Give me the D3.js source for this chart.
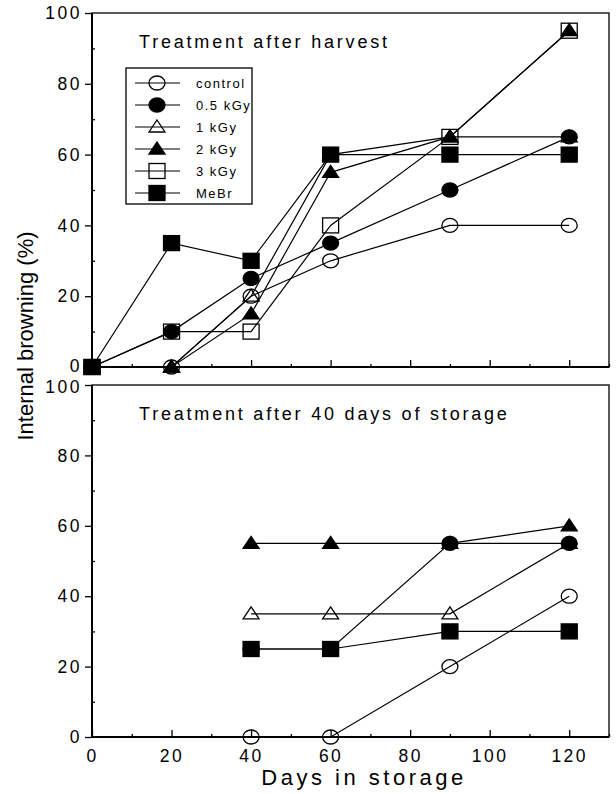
<!DOCTYPE html>
<html>
<head>
<meta charset="utf-8">
<script src="https://cdn.jsdelivr.net/npm/d3@7"></script>
<style>
    body { margin: 0; background: #fff; }
    text { font-family: "Liberation Sans", Arial, sans-serif; fill: #000; }
</style>
</head>
<body>
<div id="chart"></div>
<script>
// series names and marker styles, in legend order
const seriesNames = ["control", "0.5 kGy", "1 kGy", "2 kGy", "3 kGy", "MeBr"];

// top panel: treatment after harvest
const harvestDays = [0, 20, 40, 60, 90, 120];
const harvestControl = [0, 0, 20, 30, 40, 40];
const harvest05 = [0, 10, 25, 35, 50, 65];
const harvest1 = [0, 0, 20, 60, 65, 65];
const harvest2 = [0, 0, 15, 55, 65, 95];
const harvest3 = [0, 10, 10, 40, 65, 95];
const harvestMeBr = [0, 35, 30, 60, 60, 60];

// bottom panel: treatment after 40 days of storage
const storedDays = [40, 60, 90, 120];
const storedControl = [0, 0, 20, 40];
const stored05 = [25, 25, 55, 55];
const stored1 = [35, 35, 35, 55];
const stored2 = [55, 55, 55, 60];
const storedMeBr = [25, 25, 30, 30];

const xTicks = [0, 20, 40, 60, 80, 100, 120];
const xMinor = [10, 30, 50, 70, 90, 110, 130];
const yTicks = [0, 20, 40, 60, 80, 100];
const yMinor = [10, 30, 50, 70, 90];

const markers = {
    "control": { shape: "circle", filled: false },
    "0.5 kGy": { shape: "circle", filled: true },
    "1 kGy": { shape: "triangle", filled: false },
    "2 kGy": { shape: "triangle", filled: true },
    "3 kGy": { shape: "square", filled: false },
    "MeBr": { shape: "square", filled: true }
};

const svg = {
    width: 616,
    height: 794,
    left: 92,
    right: 609,
    top: { y0: 13, y1: 367 },
    bottom: { y0: 385, y1: 737 }
};

const chart = d3.select("#chart")
    .append("svg")
    .attr("width", svg.width)
    .attr("height", svg.height);

const xScale = d3.scaleLinear()
    .domain([0, 130])
    .range([svg.left, svg.right]);

function drawMarker(g, name, x, y) {
    const m = markers[name];
    let el;
    if (m.shape === "circle") {
        el = g.append("ellipse").attr("cx", x).attr("cy", y).attr("rx", 8).attr("ry", 7);
    } else if (m.shape === "triangle") {
        el = g.append("path").attr("d", `M${x},${y - 7}L${x + 8},${y + 5}L${x - 8},${y + 5}Z`);
    } else {
        el = g.append("rect").attr("x", x - 8).attr("y", y - 7.5).attr("width", 16).attr("height", 15);
    }
    el.attr("fill", m.filled ? "#000" : "none")
        .attr("stroke", "#000")
        .attr("stroke-width", 1.3);
}

function drawPanel(panel, title, days, series, xLabels) {
    const yScale = d3.scaleLinear()
        .domain([0, 100])
        .range([panel.y1, panel.y0]);

    const g = chart.append("g");

    // frame
    g.append("rect")
        .attr("x", svg.left).attr("y", panel.y0)
        .attr("width", svg.right - svg.left).attr("height", panel.y1 - panel.y0)
        .attr("fill", "none").attr("stroke", "#000").attr("stroke-width", 1.3);

    // x axis, ticks pointing inward
    g.append("g")
        .attr("transform", `translate(0,${panel.y1})`)
        .call(d3.axisBottom(xScale).tickValues(xTicks).tickSize(-7).tickPadding(13)
            .tickFormat(xLabels ? d3.format("d") : ""));
    g.append("g")
        .attr("transform", `translate(0,${panel.y1})`)
        .call(d3.axisBottom(xScale).tickValues(xMinor).tickSize(-3).tickFormat(""));

    // y axis, major ticks outward, minor inward
    const yAxis = g.append("g")
        .attr("transform", `translate(${svg.left},0)`)
        .call(d3.axisLeft(yScale).tickValues(yTicks).tickSize(7).tickPadding(3));
    g.append("g")
        .attr("transform", `translate(${svg.left},0)`)
        .call(d3.axisLeft(yScale).tickValues(yMinor).tickSize(-3).tickFormat(""));

    g.selectAll(".domain").remove();
    g.selectAll(".tick line").attr("stroke", "#000").attr("stroke-width", 1.3);
    g.selectAll(".tick text")
        .attr("font-size", 17.5)
        .style("letter-spacing", "2.5px")
        .attr("font-family", "Liberation Sans, Arial, sans-serif");

    // the two panels sit close: nudge the touching end labels apart a little
    yAxis.selectAll(".tick text")
        .attr("dy", d => xLabels && d === 100 ? "0.4em" : (!xLabels && d === 0 ? "0.24em" : "0.32em"));

    g.append("line")
        .attr("x1", svg.left).attr("x2", svg.left)
        .attr("y1", panel.y0).attr("y2", panel.y1)
        .attr("stroke", "#000").attr("stroke-width", 2);
    g.append("line")
        .attr("x1", svg.left).attr("x2", svg.right)
        .attr("y1", panel.y1).attr("y2", panel.y1)
        .attr("stroke", "#000").attr("stroke-width", 2);

    g.append("text")
        .attr("x", 139)
        .attr("y", panel.y0 + 35)
        .attr("font-size", 18)
        .style("letter-spacing", "2.8px")
        .text(title);

    const line = d3.line()
        .x((d, i) => xScale(days[i]))
        .y(d => yScale(d));

    series.forEach(s => {
        g.append("path")
            .attr("d", line(s.values))
            .attr("fill", "none")
            .attr("stroke", "#000")
            .attr("stroke-width", 1.2);
    });

    series.forEach(s => {
        s.values.forEach((v, i) => drawMarker(g, s.name, xScale(days[i]), yScale(v)));
    });
}

drawPanel(svg.top, "Treatment after harvest", harvestDays, [
    { name: "control", values: harvestControl },
    { name: "0.5 kGy", values: harvest05 },
    { name: "1 kGy", values: harvest1 },
    { name: "2 kGy", values: harvest2 },
    { name: "3 kGy", values: harvest3 },
    { name: "MeBr", values: harvestMeBr }
], false);

drawPanel(svg.bottom, "Treatment after 40 days of storage", storedDays, [
    { name: "control", values: storedControl },
    { name: "0.5 kGy", values: stored05 },
    { name: "1 kGy", values: stored1 },
    { name: "2 kGy", values: stored2 },
    { name: "MeBr", values: storedMeBr }
], true);

// legend
const legend = chart.append("g");
legend.append("rect")
    .attr("x", 126).attr("y", 68)
    .attr("width", 126).attr("height", 136)
    .attr("fill", "#fff").attr("stroke", "#000").attr("stroke-width", 1.3);

seriesNames.forEach((name, i) => {
    const y = 83 + i * 22;
    legend.append("line")
        .attr("x1", 135).attr("x2", 180)
        .attr("y1", y).attr("y2", y)
        .attr("stroke", "#000").attr("stroke-width", 1.2);
    drawMarker(legend, name, 157, y);
    legend.append("text")
        .attr("x", 196).attr("y", y + 5)
        .attr("font-size", 13)
        .style("letter-spacing", "1.5px")
        .text(name);
});

// axis titles
chart.append("text")
    .attr("transform", "translate(33,336) rotate(-90)")
    .attr("text-anchor", "middle")
    .attr("font-size", 22)
    .text("Internal browning (%)");

chart.append("text")
    .attr("x", 364)
    .attr("y", 785)
    .attr("text-anchor", "middle")
    .attr("font-size", 22)
    .style("letter-spacing", "3.5px")
    .text("Days in storage");
</script>
</body>
</html>
